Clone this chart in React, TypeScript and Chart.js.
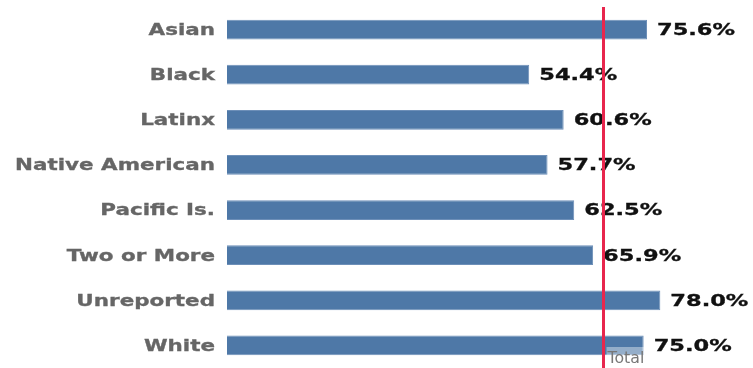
import React, { useEffect, useRef } from "react";
import { Chart, registerables } from "chart.js";

Chart.register(...registerables);

const categories = [
  "Asian",
  "Black",
  "Latinx",
  "Native American",
  "Pacific Is.",
  "Two or More",
  "Unreported",
  "White",
];
const values = [75.6, 54.4, 60.6, 57.7, 62.5, 65.9, 78.0, 75.0];
const totalValue = 67.7;
const totalLabel = "Total";

const BAR_COLOR = "#4e78a7";
const LINE_COLOR = "#e8264d";

function stretchText(
  ctx: CanvasRenderingContext2D,
  text: string,
  x: number,
  y: number,
  align: CanvasTextAlign,
  sx: number,
  stroke: number
) {
  ctx.save();
  ctx.translate(x, y);
  ctx.scale(sx, 1);
  ctx.textAlign = align;
  ctx.fillText(text, 0, 0);
  if (stroke > 0) {
    ctx.lineWidth = stroke;
    ctx.strokeStyle = ctx.fillStyle as string;
    ctx.strokeText(text, 0, 0);
  }
  ctx.restore();
}

const overlayPlugin = {
  id: "overlay",
  afterDatasetsDraw(chart: any) {
    const ctx: CanvasRenderingContext2D = chart.ctx;
    const xs = chart.scales.x;
    const ys = chart.scales.y;
    const area = chart.chartArea;
    ctx.save();
    ctx.textBaseline = "middle";
    // category labels
    ctx.font = 'bold 15px "DejaVu Sans"';
    ctx.fillStyle = "#666666";
    categories.forEach((c, i) => {
      stretchText(ctx, c, area.left - 12, ys.getPixelForValue(i) + 1.5, "right", 1.43, 0.3);
    });
    // value labels
    ctx.font = 'bold 15px "DejaVu Sans"';
    ctx.fillStyle = "#111111";
    values.forEach((v, i) => {
      stretchText(
        ctx,
        v.toFixed(1) + "%",
        xs.getPixelForValue(v) + 10,
        ys.getPixelForValue(i) + 1.5,
        "left",
        1.5,
        0.3
      );
    });
    // total line
    const tx = Math.round(xs.getPixelForValue(totalValue)) + 0.5;
    ctx.strokeStyle = LINE_COLOR;
    ctx.lineWidth = 3;
    ctx.beginPath();
    ctx.moveTo(tx, area.top);
    ctx.lineTo(tx, area.bottom);
    ctx.stroke();
    // total label
    ctx.font = '15px "DejaVu Sans"';
    const w = ctx.measureText(totalLabel).width * 1.05;
    ctx.fillStyle = "rgba(255,255,255,0.4)";
    ctx.fillRect(tx + 3, area.bottom - 21, w + 2, 21);
    ctx.fillStyle = "#777777";
    ctx.textBaseline = "alphabetic";
    stretchText(ctx, totalLabel, tx + 4, area.bottom - 5, "left", 1.05, 0);
    ctx.restore();
  },
};

export default function App() {
  const ref = useRef<HTMLCanvasElement | null>(null);
  useEffect(() => {
    document.body.style.margin = "0";
    const chart = new Chart(ref.current as HTMLCanvasElement, {
      type: "bar",
      data: {
        labels: categories,
        datasets: [
          {
            data: values,
            backgroundColor: BAR_COLOR,
            borderColor: "#6d8fb8",
            borderWidth: 1,
            barPercentage: 0.44,
            categoryPercentage: 1,
          },
        ],
      },
      options: {
        indexAxis: "y",
        animation: false,
        responsive: true,
        maintainAspectRatio: false,
        layout: { padding: { top: 7, bottom: 0, right: 26, left: 0 } },
        plugins: {
          legend: { display: false },
          tooltip: { enabled: false },
        },
        scales: {
          x: { display: false, min: 0, max: 90 },
          y: {
            grid: { display: false },
            border: { display: false },
            ticks: { display: false },
            afterFit(scale: any) {
              scale.width = 227;
            },
          },
        },
      },
      plugins: [overlayPlugin],
    });
    return () => chart.destroy();
  }, []);
  return (
    <div style={{ width: 753, height: 368, position: "relative" }}>
      <canvas ref={ref} />
    </div>
  );
}
